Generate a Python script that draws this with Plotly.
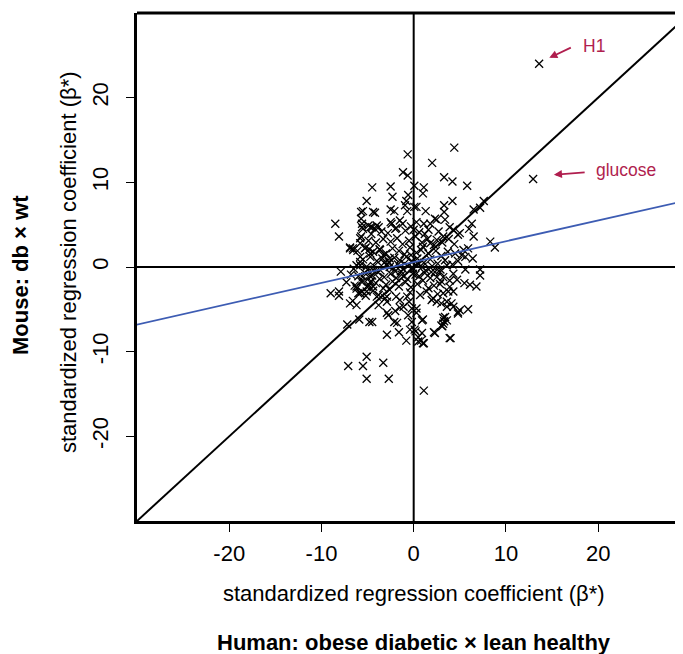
import plotly.graph_objects as go

# ---- data (standardized regression coefficients) ----
human_beta = [
    # outer / sparse points
    4.4, -0.65, 2.0, -1.16, -0.65, 3.3, 4.2, 5.8, -4.5, -2.5, 0.07, 1.1, 1.0, -5.1, -2.3, -0.6, -0.8, 4.2,
    7.6, 7.2, 6.5, 3.3, -8.5, -8.1, -5.7, -5.5, -4.2, -2.5, -2.1, -0.7, 0.3, 1.3, 3.3, 3.4, 2.3, 2.5,
    -5.7, -5.6, -4.7, -4.2, -3.8, -2.5, -1.5, -1.2, 6.3, 6.0, 6.5, 3.9, 4.3, 5.0, 1.8, 1.6, 8.3, 8.8,
    -5.7, -6.9, -6.6, -4.8, -5.8, -7.9, 7.2, 7.2, 6.4, 5.4, 5.6, 4.8, -4.4, -0.94, 0.07, 0.3, 0.0, 1.1,
    4.8, 3.2, 2.5, 1.8, 1.0, 5.9, 5.2, -5.8,
    -9.0, -8.1, -8.1, -6.9, -6.6, -6.2, -6.0, -5.6, -7.2, -5.9, -4.8, -4.5, -2.9, -2.1, -1.8, -1.6, -0.8,
    -2.9, 0.2, 0.5, 0.8, 1.1, 2.2, 4.0, 3.1, 3.3, 3.2, 5.9, 4.8, 1.0, 0.3, -5.1, -5.5, -7.1, -3.3, -5.1,
    -2.7, 1.1, 6.8, 6.1, 5.5, 4.7, 5.6, 1.95, 2.5, 2.1, 4.1, 3.6, 4.3, 3.2, -3.8, -2.9, -1.5, -1.1, -4.9,
    -4.6, -3.3, -2.6, -2.75, -2.0, -1.5, -0.7, -3.8, -3.1, -0.4, -0.2, -0.6, -0.2, -0.5, -6.2, -4.7, -3.7,
    -5.5, 4.3, 3.9, 3.2, 2.85, 2.5, 2.85, 3.9, 3.75, 3.0, 3.6, 4.3, 4.8, 5.0, 3.4, 3.6, 3.2, 3.0, 0.3, 0.9,
    0.1, 0.9, 0.5, 1.0, 2.3, 3.9,
    -5.6, -4.9, -4.5, -4.0, -5.5, -2.4, -2.0, -6.9, -6.55, -5.8, -5.3, -4.7, -3.65, -3.3, -2.6,
    -6.2, -5.8, -5.1, -4.4, -4.7, -5.5, -6.2, -5.8, -5.1, -4.4, -4.0, -2.9,
    # dense centre
    -3.5, -2.8, -1.9, -0.9, -0.3, 0.6, 1.2, 2.7, -4.6,
    -4.9, -4.1, -3.3, -2.5, -1.8, -1.2, -0.5, 0.2, 0.9, 1.5, 2.2, 3.1, 3.8, 4.4,
    -6.1, -5.2, -4.4, -3.7, -3.0, -2.3, -1.6, -1.0, -0.4, 0.3, 0.8, 1.6, 2.4, 3.0, 3.7, 4.5,
    -5.5, -4.7, -4.0, -3.4, -2.7, -2.1, -1.5, -0.8, -0.2, 0.4, 1.1, 1.8, 2.6, 3.4, 4.2,
    -6.5, -5.8, -5.0, -4.3, -3.6, -2.9, -2.2, -1.7, -1.1, -0.6, 0.0, 0.5, 1.3, 2.0, 2.9, 3.6,
    -6.8, -6.0, -5.3, -4.5, -3.9, -3.2, -2.5, -1.9, -1.3, -0.7, -0.1, 0.6, 1.2, 1.8, 2.3,
    -7.3, -6.4, -5.7, -5.0, -4.1, -3.0, -2.3, -1.6, -0.9, -0.3, 0.4, 1.0, 1.6, 2.2, 3.0,
    -5.2, -4.4, -1.9, -0.4, 0.7, 1.4, 2.6,
    -3.2, -2.0, -0.3, 0.9, 1.9, -1.4, -0.2, 0.2, -2.6, -1.0,
    # labelled genes
    13.6, 12.95,
]
mouse_beta = [
    14.1, 13.3, 12.3, 11.2, 10.8, 10.6, 10.1, 9.6, 9.4, 9.5, 9.6, 9.4, 8.7, 7.8, 8.3, 8.5, 7.8, 7.8,
    7.8, 7.0, 6.8, 7.3, 5.1, 3.6, 6.5, 6.6, 6.4, 6.8, 6.6, 6.6, 7.1, 6.6, 6.5, 5.6, 5.7, 5.6,
    5.7, 4.7, 4.7, 4.5, 4.7, 5.3, 5.5, 5.1, 5.1, 4.5, 3.6, 4.7, 4.4, 4.0, 5.1, 4.4, 3.0, 2.3,
    3.6, 2.3, 2.2, 2.1, 1.2, -0.55, -0.3, -1.0, 1.0, 2.0, 1.2, 0.7, 6.5, 7.3, 7.1, 5.3, 4.4, 5.1,
    3.8, 3.6, 3.2, 2.8, 2.4, 2.2, 1.4, 3.4,
    -3.1, -2.9, -3.4, -4.3, -4.0, -4.5, -3.1, -2.9, -6.8, -6.2, -6.5, -6.5, -8.0, -6.5, -6.6, -7.7, -8.7,
    -5.4, -7.6, -8.3, -8.7, -9.0, -7.7, -8.4, -7.0, -6.4, -6.0, -5.0, -5.3, -6.2, -5.4, -10.6, -11.7, -11.7, -11.3, -13.2,
    -13.2, -14.6, -2.3, -2.1, -1.9, -1.5, -0.3, -3.9, -4.1, -3.7, -4.3, -4.7, -2.9, -3.1, -3.3, -4.1, -3.9, -4.7, -2.1,
    -1.7, -2.5, -2.7, -5.7, -5.2, -4.8, -3.5, -4.5, -3.7, -7.4, -6.5, -5.7, -4.9, -4.1, -2.55, -1.8, -1.4,
    -1.2, -0.8, -1.6, -1.2, -0.6, -1.2, -2.0, -2.35, -2.9, -4.3, -4.1, -4.7, -5.5, -5.1, -5.9, -6.3, -6.7, -6.9, -4.9, -6.3,
    -7.4, -7.8, -8.8, -9.0, -7.8, -8.4,
    5.1, 4.9, 4.7, 4.9, 4.5, 5.1, 4.5, 2.2, 2.0, 2.8, 2.2, 1.6, 2.0, 1.4, 1.0,
    0.2, 0.6, 0.04, -0.35, -1.1, -1.7, -2.3, -3.1, -2.9, -2.3, -3.5, -3.5,
    4.2, 4.0, 4.6, 4.3, 4.8, 4.1, 3.9, 4.2, 3.9,
    3.1, 2.9, 3.3, 3.0, 3.4, 2.7, 3.1, 3.6, 2.9, 3.3, 2.6, 2.9, 3.3, 2.7,
    1.9, 2.3, 1.8, 2.1, 1.6, 2.2, 1.9, 1.5, 2.3, 1.7, 2.0, 1.6, 1.9, 1.3, 1.8, 1.6,
    0.9, 1.2, 0.7, 1.0, 0.6, 1.1, 0.8, 1.2, 0.6, 1.0, 0.5, 0.9, 0.4, 0.8, 0.3,
    -0.2, 0.2, -0.3, 0.1, -0.4, 0.2, -0.1, 0.3, -0.3, 0.1, -0.2, 0.3, -0.4, 0.1, -0.3, 0.2,
    -0.9, -1.1, -0.7, -1.0, -0.6, -1.2, -0.8, -1.3, -0.9, -1.4, -0.8, -1.1, -0.7, -1.3, -0.6,
    -1.8, -2.2, -1.7, -2.4, -1.9, -2.1, -1.7, -2.3, -1.8, -2.4, -2.0, -1.6, -2.5, -2.2, -1.7,
    -3.4, -2.8, -3.5, -3.0, -3.3, -2.9, -3.2,
    0.5, -0.5, 1.4, 0.0, -0.6, -0.5, 0.7, -0.9, 0.0, 0.4,
    24.0, 10.4,
]

# fitted regression line (blue)
fit_slope = 0.246
fit_intercept = 0.58
x_range = [-30, 29.2]
y_range = [-30, 30]
tick_vals = [-20, -10, 0, 10, 20]
tick_text = ["-20", "-10", "0", "10", "20"]

labels = ["H1", "glucose"]
# arrow head (x, y), arrow tail (x, y), label anchor (x, y) in data units
label_points = [(14.7, 24.7, 17.2, 26.0, 18.1, 26.1), (15.2, 10.9, 18.7, 11.2, 19.6, 11.4)]

FONT = "Liberation Sans, Arial, sans-serif"
LABEL_COLOR = "#B01E4E"

fig = go.Figure()

# reference lines
fig.add_trace(go.Scatter(x=[-40, 40], y=[0, 0], mode="lines",
                         line=dict(color="black", width=2), hoverinfo="skip"))
fig.add_trace(go.Scatter(x=[0, 0], y=[-40, 40], mode="lines",
                         line=dict(color="black", width=2), hoverinfo="skip"))
fig.add_trace(go.Scatter(x=[-40, 40], y=[-40, 40], mode="lines",
                         line=dict(color="black", width=2), hoverinfo="skip"))

# points
fig.add_trace(go.Scatter(
    x=human_beta, y=mouse_beta, mode="markers",
    marker=dict(symbol="x-thin-open", size=8, color="black",
                line=dict(color="black", width=1.3)),
))

# regression line
fx = [-40, 40]
fy = [fit_intercept + fit_slope * v for v in fx]
fig.add_trace(go.Scatter(x=fx, y=fy, mode="lines",
                         line=dict(color="#3D5CB3", width=1.8), hoverinfo="skip"))

annotations = []
for lab, (hx, hy, tx, ty, lx, ly) in zip(labels, label_points):
    annotations.append(dict(
        x=hx, y=hy, ax=tx, ay=ty, xref="x", yref="y", axref="x", ayref="y",
        text="", showarrow=True, arrowhead=2, arrowsize=0.9, arrowwidth=1.8,
        arrowcolor=LABEL_COLOR, standoff=0, startstandoff=0))
    annotations.append(dict(
        x=lx, y=ly, xref="x", yref="y", text=lab, showarrow=False,
        xanchor="left", yanchor="middle",
        font=dict(family=FONT, size=17.5, color=LABEL_COLOR)))

# axis titles (positions given in page pixels, converted below)
titles = [
    dict(x=414, y=593, text="standardized regression coefficient (β*)", textangle=0),
    dict(x=414, y=642, text="<b>Human: obese diabetic × lean healthy</b>", textangle=0),
    dict(x=68, y=262, text="standardized regression coefficient (β*)", textangle=-90),
    dict(x=20, y=275, text="<b>Mouse: db × wt</b>", textangle=-90),
]

BODY = 8  # default page margin of the html body
W, H = 683 - BODY, 654 - BODY
L, R, T = 137 - BODY, 0, 13 - BODY
PW, PH = 546, 508
B = H - T - PH

for t in titles:
    annotations.append(dict(
        x=(t["x"] - BODY - L) / PW, y=1 - (t["y"] - BODY - T) / PH,
        xref="paper", yref="paper", text=t["text"], textangle=t["textangle"],
        showarrow=False, xanchor="center", yanchor="middle",
        font=dict(family=FONT, size=22, color="black")))

fig.update_layout(
    width=W, height=H,
    margin=dict(l=L, r=R, t=T, b=B, pad=0),
    paper_bgcolor="white", plot_bgcolor="white",
    showlegend=False,
    font=dict(family=FONT, size=22, color="black"),
    xaxis=dict(range=x_range, tickvals=tick_vals, ticktext=tick_text,
               showgrid=False, zeroline=False, showline=True, linecolor="black", linewidth=3,
               ticks="outside", ticklen=8, tickwidth=1.3, tickcolor="black",
               ticklabelstandoff=3, tickfont=dict(size=22)),
    yaxis=dict(range=y_range, tickvals=tick_vals, ticktext=tick_text,
               showgrid=False, zeroline=False, showline=True, linecolor="black", linewidth=3,
               ticks="outside", ticklen=8, tickwidth=1.3, tickcolor="black", tickangle=-90,
               ticklabelstandoff=9, tickfont=dict(size=22)),
    annotations=annotations,
    shapes=[dict(type="line", xref="paper", yref="paper", x0=0, x1=1.02, y0=1, y1=1,
                 line=dict(color="black", width=3))],
)

fig.write_html("out.html")
